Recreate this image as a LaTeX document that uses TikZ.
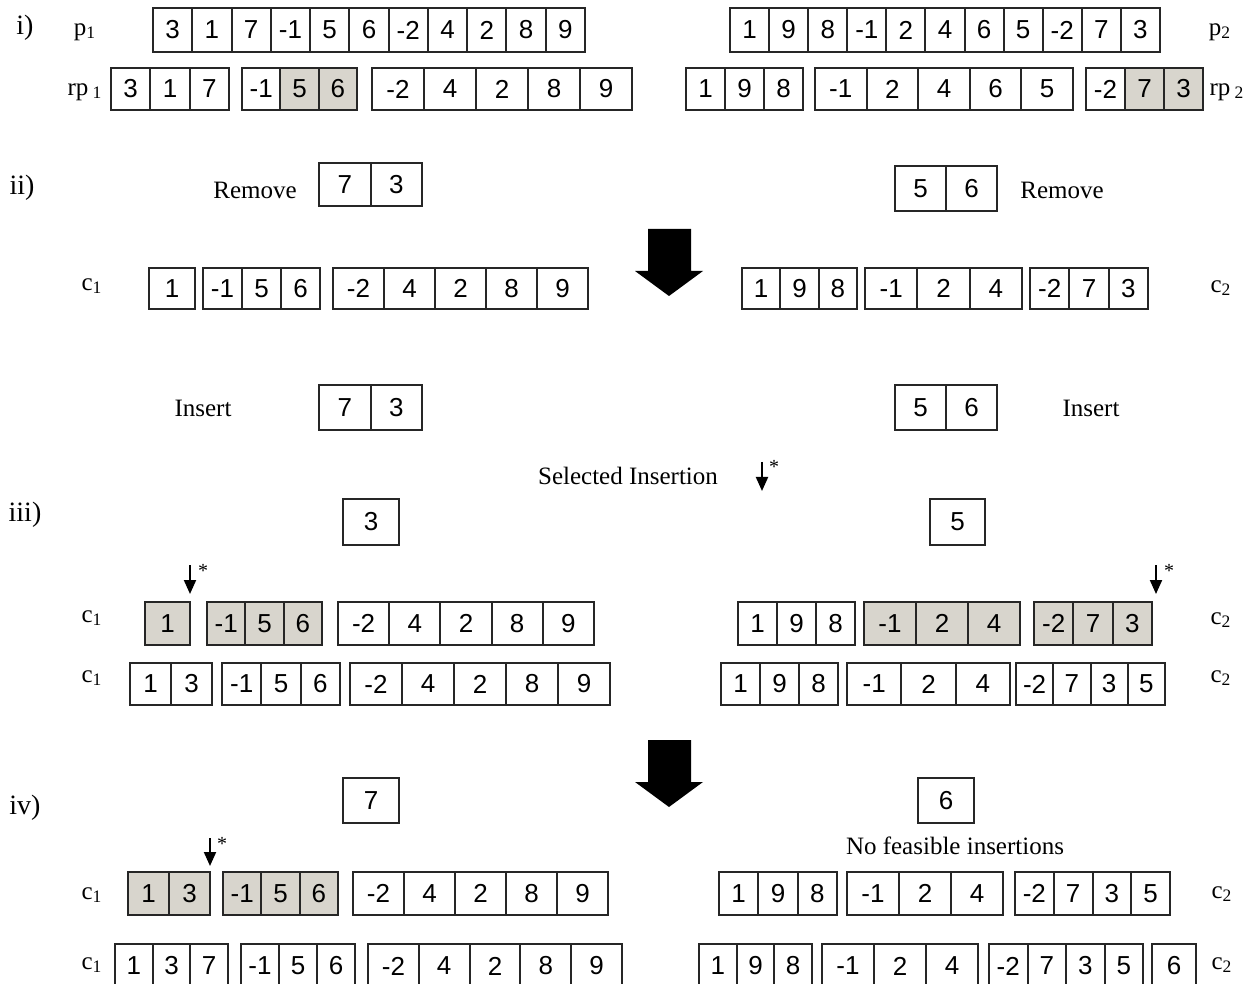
\documentclass[tikz,border=0pt]{standalone}
\usepackage{fontspec}
\setmainfont{Liberation Serif}
\newfontfamily\cellfont{Liberation Sans}
\usetikzlibrary{arrows.meta}

\definecolor{shade}{RGB}{216,213,205}
\tikzset{
  cell/.style={draw=black!85, line width=1pt},
  num/.style={font=\cellfont\fontsize{13}{13}\selectfont, inner sep=0pt},
  lbl/.style={font=\fontsize{12.5}{14}\selectfont, inner sep=0pt},
  tag/.style={font=\fontsize{14}{16}\selectfont, inner sep=0pt},
  star/.style={font=\fontsize{10}{10}\selectfont, inner sep=0pt},
  pick/.style={line width=1pt, -{Triangle[width=6pt,length=7pt]}},
  bigarrow/.style={fill=black}
}

% one route group: [first shaded cell]{x left}{x right}{y top}{y bottom}{entries}
\newcount\cellcnt
\newcommand{\cellgroup}[6][99]{%
  \global\cellcnt=0
  \foreach \v in {#6}{\global\advance\cellcnt by 1}
  \pgfmathsetmacro{\cw}{(#3-#2)/\the\cellcnt}
  \foreach \v [count=\i] in {#6}{
    \pgfmathsetmacro{\xa}{#2+(\i-1)*\cw}
    \pgfmathsetmacro{\xb}{\xa+\cw}
    \ifnum\i<#1\relax \def\cellfill{white}\else \def\cellfill{shade}\fi
    \draw[cell, fill=\cellfill] (\xa,#4) rectangle (\xb,#5);
    \node[num] at ({(\xa+\xb)/2},{(#4+#5)/2}) {\v};
  }
}

\begin{document}
\begin{tikzpicture}[x=0.5pt,y=-0.5pt]
\useasboundingbox (0,0) rectangle (1249,984);

% Step labels
\node[tag] (st1) at (25,28) {i)};
\node[tag] (st2) at (22,188) {ii)};
\node[tag] (st3) at (25,515) {iii)};
\node[tag] (st4) at (25,808) {iv)};

% i) parents and their routes
\node[lbl] (p1) at (85,32) {p\textsubscript{1}};
\node[lbl] (p2) at (1220,32) {p\textsubscript{2}};
\node[lbl] (rp1) at (85,92) {rp\,\textsubscript{1}};
\node[lbl] (rp2) at (1227,92) {rp\,\textsubscript{2}};
\cellgroup{153}{585}{8}{52}{3,1,7,-1,5,6,-2,4,2,8,9}
\cellgroup{730}{1160}{8}{52}{1,9,8,-1,2,4,6,5,-2,7,3}
\cellgroup{111}{229}{68}{110}{3,1,7}
\cellgroup[2]{242}{357}{68}{110}{-1,5,6}
\cellgroup{372}{632}{68}{110}{-2,4,2,8,9}
\cellgroup{686}{803}{68}{110}{1,9,8}
\cellgroup{815}{1073}{68}{110}{-1,2,4,6,5}
\cellgroup[2]{1086}{1203}{68}{110}{-2,7,3}

% ii) remove
\node[lbl] (rm1) at (255,190) {Remove};
\node[lbl] (rm2) at (1062,190) {Remove};
\cellgroup{319}{422}{163}{206}{7,3}
\cellgroup{895}{997}{166}{211}{5,6}
\fill[bigarrow] (648,229) -- (691,229) -- (691,271) -- (703,271) -- (669,296)
  -- (635,271) -- (648,271) -- cycle;
\node[lbl] (c1a) at (92,286) {c\textsubscript{1}};
\node[lbl] (c2a) at (1221,288) {c\textsubscript{2}};
\cellgroup{149}{195}{268}{309}{1}
\cellgroup{203}{320}{268}{309}{-1,5,6}
\cellgroup{333}{588}{268}{309}{-2,4,2,8,9}
\cellgroup{742}{857}{268}{309}{1,9,8}
\cellgroup{865}{1022}{268}{309}{-1,2,4}
\cellgroup{1030}{1148}{268}{309}{-2,7,3}

% insert
\node[lbl] (in1) at (203,408) {Insert};
\node[lbl] (in2) at (1091,408) {Insert};
\cellgroup{319}{422}{385}{430}{7,3}
\cellgroup{895}{997}{385}{430}{5,6}
\node[lbl] (sel) at (628,476) {Selected Insertion};
\coordinate (k0) at (762,462);
\coordinate (k1) at (762,491);
\draw[pick] (k0) -- (k1);
\node[star] (k2) at (774,467) {*};

% iii) first insertion
\cellgroup{343}{399}{499}{545}{3}
\cellgroup{930}{985}{499}{545}{5}
\coordinate (a0) at (190,565);
\coordinate (a1) at (190,594);
\draw[pick] (a0) -- (a1);
\node[star] (a2) at (203,571) {*};
\coordinate (b0) at (1156,565);
\coordinate (b1) at (1156,594);
\draw[pick] (b0) -- (b1);
\node[star] (b2) at (1169,571) {*};
\node[lbl] (c1b) at (92,618) {c\textsubscript{1}};
\node[lbl] (c2b) at (1221,620) {c\textsubscript{2}};
\cellgroup[1]{145}{190}{602}{645}{1}
\cellgroup[1]{207}{322}{602}{645}{-1,5,6}
\cellgroup{338}{594}{602}{645}{-2,4,2,8,9}
\cellgroup{738}{855}{602}{645}{1,9,8}
\cellgroup[1]{864}{1020}{602}{645}{-1,2,4}
\cellgroup[1]{1034}{1152}{602}{645}{-2,7,3}
\node[lbl] (c1c) at (92,678) {c\textsubscript{1}};
\node[lbl] (c2c) at (1221,678) {c\textsubscript{2}};
\cellgroup{130}{212}{663}{705}{1,3}
\cellgroup{222}{340}{663}{705}{-1,5,6}
\cellgroup{350}{610}{663}{705}{-2,4,2,8,9}
\cellgroup{721}{838}{663}{705}{1,9,8}
\cellgroup{847}{1010}{663}{705}{-1,2,4}
\cellgroup{1016}{1165}{663}{705}{-2,7,3,5}

% iv) second insertion
\fill[bigarrow] (648,740) -- (691,740) -- (691,782) -- (703,782) -- (669,807)
  -- (635,782) -- (648,782) -- cycle;
\cellgroup{343}{399}{778}{823}{7}
\cellgroup{918}{974}{778}{823}{6}
\node[lbl] (nf) at (955,846) {No feasible insertions};
\coordinate (d0) at (210,838);
\coordinate (d1) at (210,866);
\draw[pick] (d0) -- (d1);
\node[star] (d2) at (222,844) {*};
\node[lbl] (c1d) at (92,895) {c\textsubscript{1}};
\node[lbl] (c2d) at (1222,894) {c\textsubscript{2}};
\cellgroup[1]{128}{210}{872}{915}{1,3}
\cellgroup[1]{223}{338}{872}{915}{-1,5,6}
\cellgroup{353}{608}{872}{915}{-2,4,2,8,9}
\cellgroup{719}{837}{872}{915}{1,9,8}
\cellgroup{847}{1003}{872}{915}{-1,2,4}
\cellgroup{1015}{1170}{872}{915}{-2,7,3,5}
\node[lbl] (c1e) at (92,965) {c\textsubscript{1}};
\node[lbl] (c2e) at (1222,965) {c\textsubscript{2}};
\cellgroup{115}{228}{944}{988}{1,3,7}
\cellgroup{241}{355}{944}{988}{-1,5,6}
\cellgroup{368}{622}{944}{988}{-2,4,2,8,9}
\cellgroup{699}{812}{944}{988}{1,9,8}
\cellgroup{822}{978}{944}{988}{-1,2,4}
\cellgroup{989}{1143}{944}{988}{-2,7,3,5}
\cellgroup{1152}{1196}{944}{988}{6}

\end{tikzpicture}
\end{document}
